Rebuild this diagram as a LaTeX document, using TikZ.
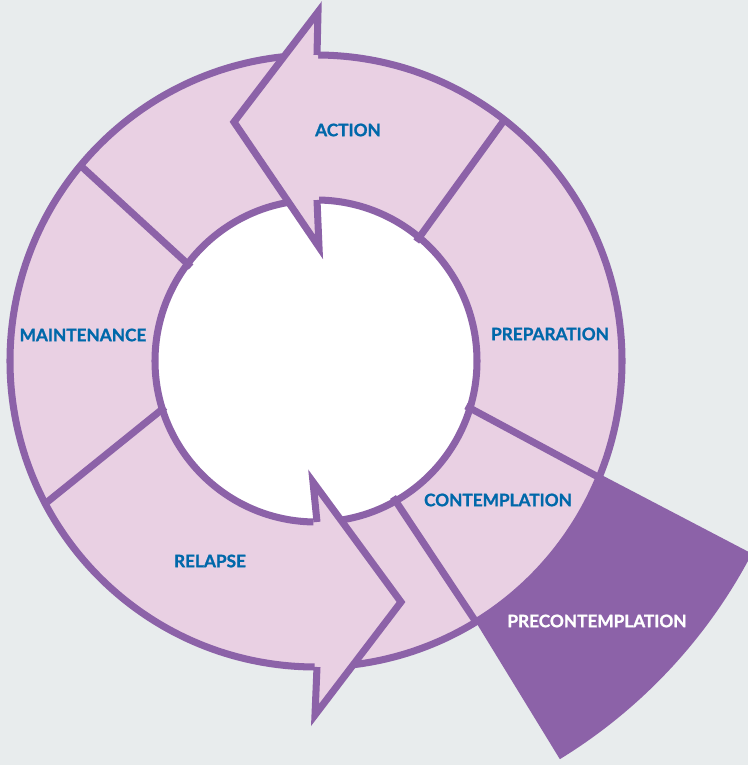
\documentclass[tikz,border=0pt]{standalone}
\usepackage{fontspec}
\setmainfont{Lato}[BoldFeatures={FakeBold=1.2}]
\usepackage{tikz}
\usetikzlibrary{calc}

\definecolor{bgcol}{RGB}{232,236,237}
\definecolor{ringpink}{RGB}{233,208,227}
\definecolor{cyclepurple}{RGB}{140,98,168}
\definecolor{cycleblue}{RGB}{0,104,170}

\begin{document}
\begin{tikzpicture}[x=0.02cm, y=0.02cm,
    every path/.style={line width=4pt, line join=miter},
    stagelabel/.style={font=\fontsize{9.8}{11}\selectfont\bfseries, text=cycleblue, inner sep=0pt}]

    \fill[bgcol] (0,0) rectangle (748,765);
    \useasboundingbox (0,0) rectangle (748,765);

    % the wedge that sticks out
    \coordinate (apex) at (284,456);
    \fill[cyclepurple] (apex) -- ($(apex)+(-27.6:528)$) arc[start angle=-27.6, end angle=-58.5, radius=528] -- cycle;

    \coordinate (c) at (316,404);
    \fill[ringpink] (c) circle[radius=306];
    \fill[white] (c) circle[radius=161];

    \draw[cyclepurple] ($(c)+(50:156)$) -- ($(c)+(52:306)$);
    \draw[cyclepurple] (466,359) -- (600,287);
    \draw[cyclepurple] (393,268) -- (476,143);
    \draw[cyclepurple] (165,358) -- (46,262);
    \draw[cyclepurple] (191,498) -- (81,599);

    \draw[cyclepurple] (c) circle[radius=306];
    \draw[cyclepurple] (c) circle[radius=161];

    % action arrow
    \fill[ringpink] (318,753) -- (234,643) -- (319,518) -- cycle;
    \draw[cyclepurple] (317,710) -- (318,753) -- (234,643) -- (319,518) -- (317,565);

    % relapse arrow
    \fill[ringpink] (315,50) -- (401,163) -- (313,283) -- cycle;
    \draw[cyclepurple] (317,98) -- (315,50) -- (401,163) -- (313,283) -- (317,243);

    \node[stagelabel] (action) at (348,635) {ACTION};
    \node[stagelabel] (preparation) at (550,431) {PREPARATION};
    \node[stagelabel] (maintenance) at (83,430) {MAINTENANCE};
    \node[stagelabel] (contemplation) at (498,265) {CONTEMPLATION};
    \node[stagelabel] (relapse) at (210,204) {RELAPSE};
    \node[stagelabel, text=white] (precontemplation) at (597,144) {PRECONTEMPLATION};

\end{tikzpicture}
\end{document}
